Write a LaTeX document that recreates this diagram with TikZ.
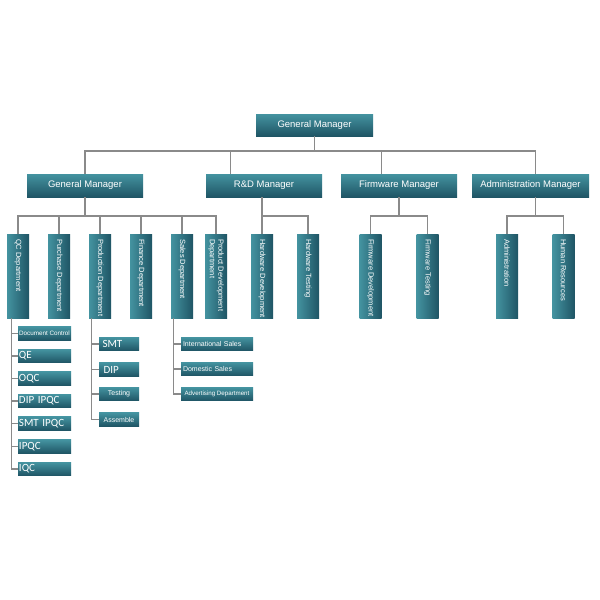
\documentclass[tikz,border=0pt]{standalone}
\usepackage{fontspec}
\setmainfont{Liberation Sans}
\newfontfamily\calfont{Carlito}
\usetikzlibrary{calc}
\definecolor{boxtop}{HTML}{4493A0}
\definecolor{boxbot}{HTML}{1F5565}
\definecolor{linegray}{HTML}{8A8A8A}
\tikzset{
  hbox/.style={rectangle, inner sep=0pt, top color=boxtop, bottom color=boxbot, draw=none, text=white, font=\fontsize{9.5}{10}\selectfont},
  vbox/.style={rectangle, inner sep=0pt, left color=boxtop, right color=boxbot, draw=none, minimum width=22pt, minimum height=84pt},
  vtext/.style={rotate=-90, anchor=west, inner sep=0pt, text=white, align=left, font=\fontsize{7.5}{8.5}\selectfont},
  sbox/.style={rectangle, inner sep=0pt, top color=boxtop, bottom color=boxbot, draw=none, text=white, minimum height=13.5pt},
  calstyle/.style={font=\calfont\fontsize{11}{11}\selectfont, align=left},
  conn/.style={draw=linegray, line width=1.2pt},
}
\begin{document}
\begin{tikzpicture}[x=1pt,y=-1pt]
\useasboundingbox (0,0) rectangle (600,600);
\fill[white] (0,0) rectangle (600,600);
% level 1
\node[hbox, minimum width=117pt, minimum height=22pt] (gm0) at (314.5,125) {General Manager};
% level 2
\node[hbox, minimum width=116pt, minimum height=23pt] (gm1) at (85,185.5) {General Manager};
\node[hbox, minimum width=116pt, minimum height=23pt] (rd) at (264,185.5) {R\&D Manager};
\node[hbox, minimum width=116pt, minimum height=23pt] (fw) at (399,185.5) {Firmware Manager};
\node[hbox, minimum width=117pt, minimum height=23pt] (adm) at (530.5,185.5) {Administration Manager};
\coordinate (bus0) at (0,151);
\coordinate (rdin) at ($(rd.north west)+(25,0)$);
\coordinate (fwin) at ($(fw.north west)+(41,0)$);
\coordinate (admin) at ($(adm.north west)+(64,0)$);
\draw[conn] (gm0.south) -- (gm0.south |- bus0);
\draw[conn] (gm1.north) |- (admin |- bus0) -- (admin);
\draw[conn] (rdin |- bus0) -- (rdin);
\draw[conn] (fwin |- bus0) -- (fwin);
% level 3
\node[vbox] (qc) at (18,276) {};
\node[vbox] (pu) at (59,276) {};
\node[vbox] (pr) at (100,276) {};
\node[vbox] (fi) at (141,276) {};
\node[vbox] (sa) at (182,276) {};
\node[vbox] (pd) at (216,276) {};
\node[vbox] (hd) at (262,276) {};
\node[vbox] (ht) at (308,276) {};
\node[vbox] (fd) at (370.5,276) {};
\node[vbox] (ft) at (427.5,276) {};
\node[vbox] (ad) at (507,276) {};
\node[vbox] (hr) at (563.5,276) {};
\node[vtext] (qct) at ($(qc.north)+(0,5)$) {QC Department};
\node[vtext] (put) at ($(pu.north)+(0,5)$) {Purchase Department};
\node[vtext] (prt) at ($(pr.north)+(0,5)$) {Production Department};
\node[vtext] (fit) at ($(fi.north)+(0,5)$) {Finance Department};
\node[vtext] (sat) at ($(sa.north)+(0,5)$) {Sales Department};
\node[vtext] (pdt) at ($(pd.north)+(0,5)$) {Product Development\\Department};
\node[vtext] (hdt) at ($(hd.north)+(0,5)$) {Hardware Development};
\node[vtext] (htt) at ($(ht.north)+(0,5)$) {Hardware Testing};
\node[vtext] (fdt) at ($(fd.north)+(0,5)$) {Firmware Development};
\node[vtext] (ftt) at ($(ft.north)+(0,5)$) {Firmware Testing};
\node[vtext] (adt) at ($(ad.north)+(0,5)$) {Administration};
\node[vtext] (hrt) at ($(hr.north)+(0,5)$) {Human Resources};
\coordinate (bus1) at (0,216);
\draw[conn] (gm1.south) -- (gm1.south |- bus1);
\draw[conn] (qc.north) |- (pd.north |- bus1) -- (pd.north);
\foreach \n in {pu,pr,fi,sa} {\draw[conn] (\n.north) -- (\n.north |- bus1);}
\draw[conn] (rd.south -| hd.north) -- (hd.north);
\draw[conn] (hd.north |- bus1) -| (ht.north);
\draw[conn] (fw.south) -- (fw.south |- bus1);
\draw[conn] (fd.north) |- (ft.north |- bus1) -- (ft.north);
\draw[conn] (adm.south -| admin) -- (admin |- bus1);
\draw[conn] (ad.north) |- (hr.north |- bus1) -- (hr.north);
% level 4: QC
\begin{scope}[every node/.append style={sbox, minimum width=53pt}]
\node[font=\fontsize{6.3}{7}\selectfont] (dc) at (44.5,333.5) {Document Control};
\node[calstyle, text width=51pt] (qe) at (44.5,356) {QE};
\node[calstyle, text width=51pt] (oqc) at (44.5,378.5) {OQC};
\node[calstyle, text width=51pt] (dip1) at (44.5,401) {DIP IPQC};
\node[calstyle, text width=51pt] (smt1) at (44.5,423.5) {SMT IPQC};
\node[calstyle, text width=51pt] (ipqc) at (44.5,446.5) {IPQC};
\node[calstyle, text width=51pt] (iqc) at (44.5,469) {IQC};
\end{scope}
\coordinate (qcl) at ($(qc.south west)+(5,0)$);
\draw[conn] (qcl) |- (iqc.west);
\foreach \n in {dc,qe,oqc,dip1,smt1,ipqc} {\draw[conn] (qcl |- \n.west) -- (\n.west);}
% level 4: Production
\begin{scope}[every node/.append style={sbox, minimum width=40pt}]
\node[calstyle, text width=33pt] (smt) at (119,344) {SMT};
\node[calstyle, text width=31pt] (dip) at (119,369.5) {DIP};
\node[font=\fontsize{7}{8}\selectfont] (tst) at (119,394) {Testing};
\node[font=\fontsize{7}{8}\selectfont] (asm) at (119,419.5) {Assemble};
\end{scope}
\coordinate (prl) at ($(pr.south west)+(3,0)$);
\draw[conn] (prl) |- (asm.west);
\foreach \n in {smt,dip,tst} {\draw[conn] (prl |- \n.west) -- (\n.west);}
% level 4: Sales
\begin{scope}[every node/.append style={sbox, minimum width=72pt}]
\node[font=\fontsize{7}{8}\selectfont, text width=68pt, align=left] (ins) at (217,344) {International Sales};
\node[font=\fontsize{7}{8}\selectfont, text width=68pt, align=left] (dom) at (217,369) {Domestic Sales};
\node[font=\fontsize{6.2}{7}\selectfont] (adv) at (217,394) {Advertising Department};
\end{scope}
\coordinate (sal) at ($(sa.south west)+(3,0)$);
\draw[conn] (sal) |- (adv.west);
\foreach \n in {ins,dom} {\draw[conn] (sal |- \n.west) -- (\n.west);}
\end{tikzpicture}
\end{document}
